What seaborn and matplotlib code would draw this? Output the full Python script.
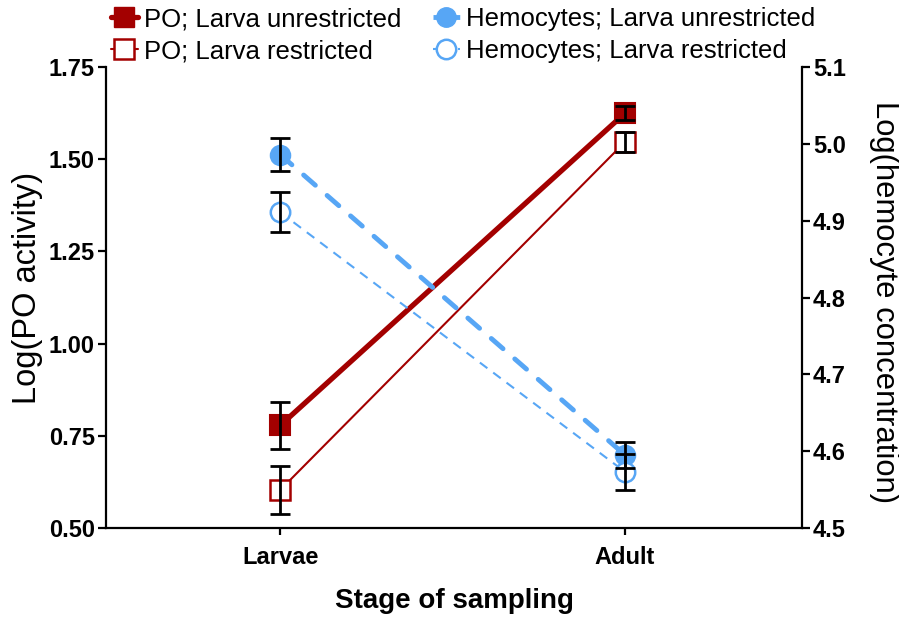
import matplotlib
matplotlib.use("Agg")
import matplotlib.pyplot as plt
import seaborn as sns
import pandas as pd
import numpy as np
from matplotlib.lines import Line2D

# ---- data ----
stages = ["Larvae", "Adult"]
po_unrestricted = [0.778, 1.625]
po_unrestricted_err = [0.065, 0.019]
po_restricted = [0.603, 1.547]
po_restricted_err = [0.065, 0.027]
hemo_unrestricted = [4.986, 4.595]
hemo_unrestricted_err = [0.021, 0.017]
hemo_restricted = [4.911, 4.573]
hemo_restricted_err = [0.026, 0.023]

labels = ["PO; Larva unrestricted", "PO; Larva restricted",
          "Hemocytes; Larva unrestricted", "Hemocytes; Larva restricted"]

RED = "#A30000"
BLUE = "#57A6F5"

sns.set_theme(style="ticks")
plt.rcParams["font.family"] = ["Liberation Sans", "DejaVu Sans"]
plt.rcParams["text.color"] = "black"
plt.rcParams["axes.labelcolor"] = "black"

fig = plt.figure(figsize=(8.99, 6.18), dpi=100)
ax = fig.add_axes([106/899, 1-528/618, (802-106)/899, (528-67)/618])
ax2 = ax.twinx()

xpos = np.arange(len(stages))
df = pd.DataFrame({"x": xpos, "po_u": po_unrestricted, "po_r": po_restricted,
                   "he_u": hemo_unrestricted, "he_r": hemo_restricted})

# PO unrestricted
sns.lineplot(data=df, x="x", y="po_u", ax=ax, color=RED, linewidth=3.8,
             marker="s", markersize=14, markerfacecolor=RED, markeredgecolor=RED,
             markeredgewidth=1.5, errorbar=None, zorder=3)
# PO restricted
sns.lineplot(data=df, x="x", y="po_r", ax=ax, color=RED, linewidth=1.5,
             marker="s", markersize=14, markerfacecolor="white", markeredgecolor=RED,
             markeredgewidth=1.8, errorbar=None, zorder=3)
ax.errorbar(xpos, po_unrestricted, yerr=po_unrestricted_err, fmt="none",
            ecolor="black", elinewidth=2, capsize=7.5, capthick=2, zorder=5)
ax.errorbar(xpos, po_restricted, yerr=po_restricted_err, fmt="none",
            ecolor="black", elinewidth=2, capsize=7.5, capthick=2, zorder=5)

# Hemocytes
sns.lineplot(data=df, x="x", y="he_u", ax=ax2, color=BLUE, linewidth=3.5,
             linestyle=(0, (3.2, 3.2)), dash_capstyle="round",
             marker="o", markersize=14, markerfacecolor=BLUE, markeredgecolor=BLUE,
             markeredgewidth=1.5, errorbar=None, zorder=3)
sns.lineplot(data=df, x="x", y="he_r", ax=ax2, color=BLUE, linewidth=1.5,
             linestyle=(0, (4.5, 3.5)),
             marker="o", markersize=14, markerfacecolor="white", markeredgecolor=BLUE,
             markeredgewidth=1.8, errorbar=None, zorder=3)
ax2.errorbar(xpos, hemo_unrestricted, yerr=hemo_unrestricted_err, fmt="none",
             ecolor="black", elinewidth=2, capsize=7.5, capthick=2, zorder=5)
ax2.errorbar(xpos, hemo_restricted, yerr=hemo_restricted_err, fmt="none",
             ecolor="black", elinewidth=2, capsize=7.5, capthick=2, zorder=5)

# axes
ax.set_xlim(-0.505, 1.513)
ax.set_ylim(0.5, 1.75)
ax2.set_ylim(4.5, 5.1)
ax.set_yticks(np.arange(0.5, 1.751, 0.25))
ax.set_yticklabels([f"{v:.2f}" for v in np.arange(0.5, 1.751, 0.25)])
ax2.set_yticks(np.arange(4.5, 5.1001, 0.1))
ax2.set_yticklabels([f"{v:.1f}" for v in np.arange(4.5, 5.1001, 0.1)])
ax.set_xticks(xpos)
ax.set_xticklabels(stages)

for a in (ax, ax2):
    a.spines["top"].set_visible(False)
    for s in ("left", "right", "bottom"):
        a.spines[s].set_linewidth(1.6)
        a.spines[s].set_color("black")
    a.tick_params(axis="both", width=1.6, length=6, colors="black",
                  labelsize=17, pad=2)
    for lab in a.get_yticklabels() + a.get_xticklabels():
        lab.set_fontweight("bold")
ax.spines["right"].set_visible(False)
ax2.spines["left"].set_visible(False)
ax2.spines["bottom"].set_visible(False)
ax.tick_params(axis="x", length=5, pad=8)

ax.set_xlabel("Stage of sampling", fontsize=20, fontweight="bold", labelpad=14,
              color="black")
ax.set_ylabel("Log(PO activity)", fontsize=23.5, color="black", va="center")
ax.yaxis.set_label_coords(-0.113, 0.52)
ax2.set_ylabel("Log(hemocyte concentration)", fontsize=22.3, rotation=270,
               color="black", va="center")
ax2.yaxis.set_label_coords(1.1175, 0.49)

# legend
h = [
    Line2D([], [], color=RED, lw=3.8, marker="s", markersize=14, mfc=RED, mec=RED),
    Line2D([], [], color=RED, lw=1.5, marker="s", markersize=14, mfc="white", mec=RED, mew=1.8),
    Line2D([], [], color=BLUE, lw=3.5, ls=(0, (2.0, 1.5)), marker="o", markersize=14, mfc=BLUE, mec=BLUE),
    Line2D([], [], color=BLUE, lw=1.5, ls=(0, (2.0, 2.0)), marker="o", markersize=14, mfc="white", mec=BLUE, mew=1.8),
]
fig.legend(h, labels, ncol=2, loc="upper left", bbox_to_anchor=(111/899, 1-7/618),
           frameon=False, fontsize=18.5, handlelength=1.05, handletextpad=0.25,
           columnspacing=1.2, labelspacing=0.32, borderpad=0, borderaxespad=0,
           labelcolor="black")

fig.savefig("out.png", dpi=100)
